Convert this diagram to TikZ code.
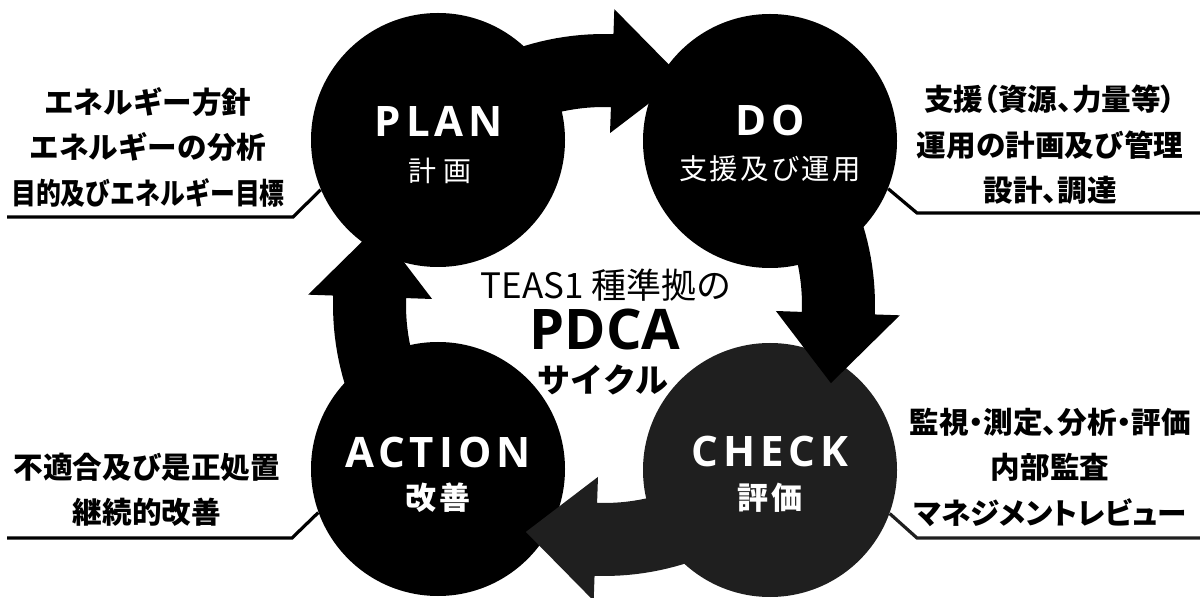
\documentclass[tikz,border=0pt]{standalone}
\usepackage{fontspec}
\usepackage{graphicx}
\newfontfamily\jp{Noto Sans CJK JP}
\newfontfamily\jpp{Noto Sans CJK JP}[RawFeature=+palt]
\newfontfamily\jpsp{Noto Sans CJK JP}[LetterSpace=8]
\newfontfamily\jpwide{Noto Sans CJK JP}[LetterSpace=26]
\newfontfamily\latsp{Open Sans}[LetterSpace=12]
\newfontfamily\lat{Open Sans}
\definecolor{stip}{gray}{0.12}
\tikzset{
  disc/.style={circle, minimum size=127pt, inner sep=0pt, fill=black},
  ttl/.style={text=white, font=\latsp\bfseries\fontsize{21}{24}\selectfont, inner sep=0pt},
  sub/.style={text=white, inner sep=0pt},
  side/.style={align=center, inner sep=0pt, font=\jp\bfseries\fontsize{14.8}{22.75}\selectfont},
  conn/.style={line width=1.6pt},
  plain/.style={inner sep=0pt},
}
\begin{document}
\begin{tikzpicture}[x=0.5pt,y=-0.5pt]
\useasboundingbox (0,0) rectangle (1200,598);
% circles
\node[disc] (plan) at (438,140) {};
\node[disc] (do) at (770,141) {};
\node[disc, fill=stip] (check) at (770,470) {};
\node[disc] (action) at (438,469) {};
% cycle arrows
\begin{scope}[shift={(604,305)}]
  \foreach \ba/\co in {-88/black, 2/black, 92/stip, 182/black} {
    \pgfmathsetmacro\sa{\ba-50}
    \pgfmathsetmacro\ta{\ba+17}
    \fill[\co] plot[domain=\sa:\ba, samples=30] (\x:271) -- (\ba:296) -- (\ta:240) -- (\ba:172)
      -- plot[domain=\ba:\sa, samples=30] (\x:198) -- cycle;
  }
\end{scope}
% circle labels
\node[ttl] (planT) at (439,121) {PLAN};
\node[sub, font=\jpwide\fontsize{14}{16}\selectfont] (planS) at (440,171) {計画};
\node[ttl] (doT) at (770,120) {DO};
\node[sub, font=\jpsp\fontsize{14.2}{16}\selectfont] (doS) at (770,169) {支援及び運用};
\node[ttl] (checkT) at (770,452) {CHECK};
\node[sub, font=\jpsp\bfseries\fontsize{15.5}{18}\selectfont] (checkS) at (770,498) {評価};
\node[ttl] (actionT) at (438,452) {ACTION};
\node[sub, font=\jpsp\bfseries\fontsize{15.5}{18}\selectfont] (actionS) at (438,498) {改善};
% centre title
\node[plain, font=\jp\fontsize{17.5}{20}\selectfont] (teas) at (606,285) {TEAS1 種準拠の};
\node[plain, font=\lat\bfseries\fontsize{28}{30}\selectfont] (pdca) at (605,330) {PDCA};
\node[plain, font=\jp\bfseries\fontsize{16.5}{18}\selectfont] (cyc) at (603,380) {サイクル};
% side texts
\node[side] (tl) at (148,147) {エネルギー方針\\エネルギーの分析\\\scalebox{0.84}[1]{目的及びエネルギー目標}};
\node[side] (tr) at (1050,145) {{\jpp 支援（資源、力量等）}\\運用の計画及び管理\\{\jpp 設計、調達}};
\node[side] (br) at (1050,467) {{\jpp 監視・測定、分析・評価}\\内部監査\\{\jpp マネジメントレビュー}};
\node[side] (bl) at (147,490) {不適合及び是正処置\\継続的改善};
% leader lines
\coordinate (tlK) at (293,217); \coordinate (tlE) at (7,217);
\coordinate (trK) at (917,213); \coordinate (trE) at (1200,213);
\coordinate (brK) at (917,538); \coordinate (brE) at (1200,538);
\coordinate (blK) at (292,538); \coordinate (blE) at (7,538);
\draw[conn] (plan.203) -- (tlK) -- (tlE);
\draw[conn] (do.338) -- (trK) -- (trE);
\draw[conn, stip] (check.340) -- (brK) -- (brE);
\draw[conn] (action.200) -- (blK) -- (blE);
\end{tikzpicture}
\end{document}
